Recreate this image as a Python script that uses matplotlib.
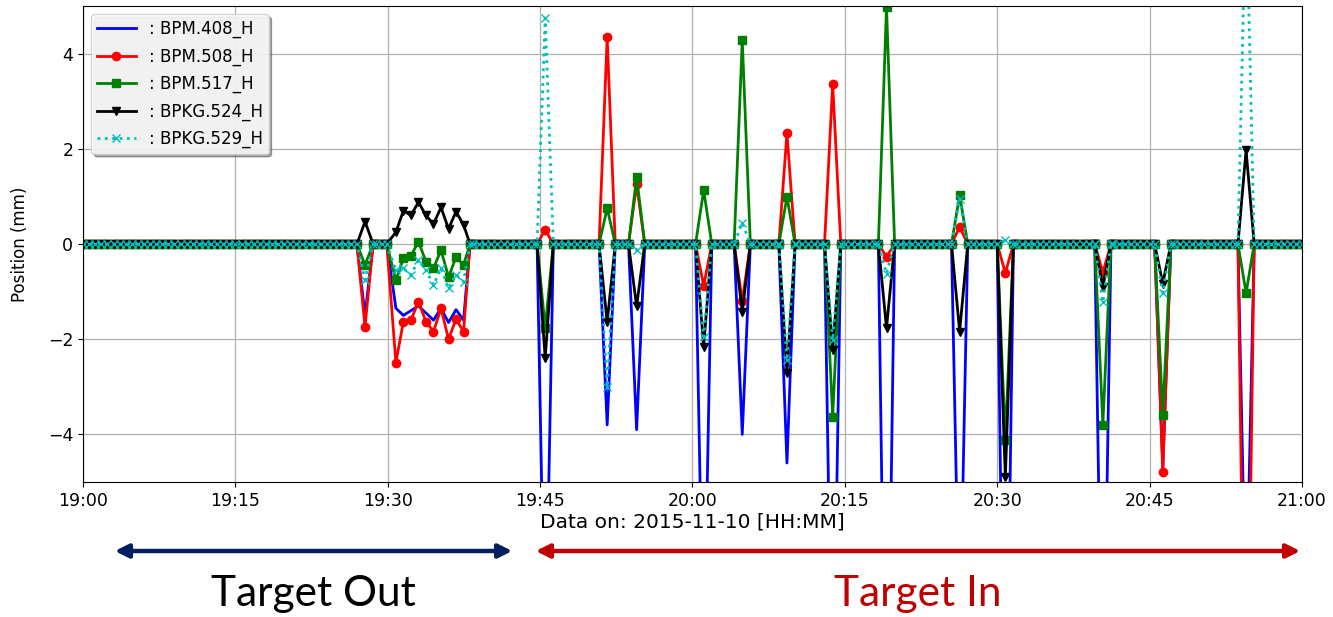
import numpy as np
import pandas as pd
import matplotlib
matplotlib.use("Agg")
import matplotlib.pyplot as plt
import matplotlib.dates as mdates
from matplotlib.patches import FancyArrowPatch

# ---- data (minutes after 19:00 on 2015-11-10) ----
start = pd.Timestamp("2015-11-10 19:00")
sample_step = 0.6          # baseline acquisition cadence [min]
half_width = 0.8           # distance of neighbouring zero samples around a spike [min]

# isolated spikes
spike_t = [27.76, 45.5, 51.6, 54.5, 61.1, 64.9, 69.3, 73.8, 79.1, 86.3, 90.8, 100.4, 106.3, 114.5]
spike_bpm408 = [-1.5, -9.0, -3.8, -3.9, -9.0, -4.0, -4.6, -10.5, -12.0, -8.5, -12.0, -10.5, -4.7, -8.0]
spike_bpm508 = [-1.74, 0.3, 4.35, 1.25, -0.88, -1.2, 2.33, 3.36, -0.27, 0.36, -0.61, -0.6, -4.78, -12.0]
spike_bpm517 = [-0.44, -1.77, 0.75, 1.4, 1.13, 4.28, 0.99, -3.63, 4.98, 1.03, -4.12, -3.8, -3.59, -1.03]
spike_bpkg524 = [0.47, -2.4, -1.64, -1.31, -2.16, -1.42, -2.71, -2.23, -1.77, -1.84, -4.9, -0.9, -0.83, 1.97]
spike_bpkg529 = [-0.75, 4.75, -3.0, -0.12, -1.95, 0.44, -2.44, -2.02, -0.62, 0.95, 0.08, -1.22, -1.03, 7.5]

# continuous burst (target out period)
burst_t = [30.8, 31.54, 32.28, 33.02, 33.76, 34.5, 35.24, 35.98, 36.72, 37.46]
burst_edges = [29.9, 38.1]
burst_bpm408 = [-1.35, -1.5, -1.4, -1.3, -1.45, -1.6, -1.35, -1.65, -1.38, -1.6]
burst_bpm508 = [-2.49, -1.63, -1.6, -1.21, -1.63, -1.84, -1.35, -2.0, -1.58, -1.84]
burst_bpm517 = [-0.76, -0.3, -0.25, 0.05, -0.37, -0.51, -0.13, -0.69, -0.28, -0.44]
burst_bpkg524 = [0.25, 0.7, 0.6, 0.88, 0.6, 0.42, 0.77, 0.32, 0.68, 0.4]
burst_bpkg529 = [-0.55, -0.51, -0.65, -0.34, -0.55, -0.86, -0.51, -0.93, -0.65, -0.79]

labels = [": BPM.408_H", ": BPM.508_H", ": BPM.517_H", ": BPKG.524_H", ": BPKG.529_H"]
colors = ["blue", "red", "green", "black", "c"]
markers = [None, "o", "s", "v", "x"]
styles = ["-", "-", "-", "-", ":"]


def build_series(spike_vals, burst_vals):
    """Zero baseline at the acquisition cadence, plus spikes and the burst."""
    grid = np.arange(0.0, 120.0 + 1e-9, sample_step)
    keep = np.ones_like(grid, dtype=bool)
    for t in spike_t:
        keep &= np.abs(grid - t) >= half_width
    keep &= ~((grid > burst_edges[0]) & (grid < burst_edges[1]))
    t_all = list(grid[keep])
    v_all = [0.0] * len(t_all)
    for t, v in zip(spike_t, spike_vals):
        t_all += [t - half_width, t, t + half_width]
        v_all += [0.0, v, 0.0]
    t_all += burst_edges + burst_t
    v_all += [0.0, 0.0] + list(burst_vals)
    order = np.argsort(t_all)
    t_all = np.asarray(t_all)[order]
    v_all = np.asarray(v_all)[order]
    return start + pd.to_timedelta(t_all, unit="m"), v_all


series = [
    (spike_bpm408, burst_bpm408),
    (spike_bpm508, burst_bpm508),
    (spike_bpm517, burst_bpm517),
    (spike_bpkg524, burst_bpkg524),
    (spike_bpkg529, burst_bpkg529),
]

fig = plt.figure(figsize=(13.33, 6.17), dpi=100)
ax = fig.add_axes([0.0623, 0.2188, 0.9144, 0.7715])

for (sv, bv), lab, c, m, ls in zip(series, labels, colors, markers, styles):
    t, v = build_series(sv, bv)
    ax.plot(t, v, color=c, marker=m, linestyle=ls, linewidth=2, markersize=6,
            label=lab)

ax.set_xlim(start, start + pd.Timedelta(minutes=120))
ax.set_ylim(-5, 5)
ax.set_yticks([-4, -2, 0, 2, 4])
ax.xaxis.set_major_locator(mdates.MinuteLocator(byminute=[0, 15, 30, 45]))
ax.xaxis.set_major_formatter(mdates.DateFormatter("%H:%M"))
ax.tick_params(labelsize=12.5)
ax.grid(True, color="#b0b0b0", linewidth=0.9)
ax.set_ylabel("Position (mm)", fontsize=12)
ax.yaxis.set_label_coords(-0.044, 0.5)
ax.set_xlabel("Data on: 2015-11-10 [HH:MM]", fontsize=14.5, labelpad=2)

ax.legend(loc="upper left", fontsize=12, shadow=True, fancybox=True,
          handlelength=2.3, handletextpad=0.8, labelspacing=0.55,
          borderaxespad=0.5, borderpad=0.35, framealpha=0.85)

# target state annotations below the time axis
y_arrow = 1 - 551 / 617
fig.patches.append(FancyArrowPatch((112 / 1333, y_arrow), (515 / 1333, y_arrow),
                                   transform=fig.transFigure, arrowstyle="<|-|>",
                                   mutation_scale=20, linewidth=3.2,
                                   color="#002060"))
fig.patches.append(FancyArrowPatch((533 / 1333, y_arrow), (1303 / 1333, y_arrow),
                                   transform=fig.transFigure, arrowstyle="<|-|>",
                                   mutation_scale=20, linewidth=3.2,
                                   color="#C00000"))
fig.text(313 / 1333, 1 - 594 / 617, "Target Out", ha="center", va="center",
         fontsize=30.5, family="Lato", color="black")
fig.text(918 / 1333, 1 - 594 / 617, "Target In", ha="center", va="center",
         fontsize=30.5, family="Lato", color="#C00000")

fig.savefig("out.png", dpi=100)
